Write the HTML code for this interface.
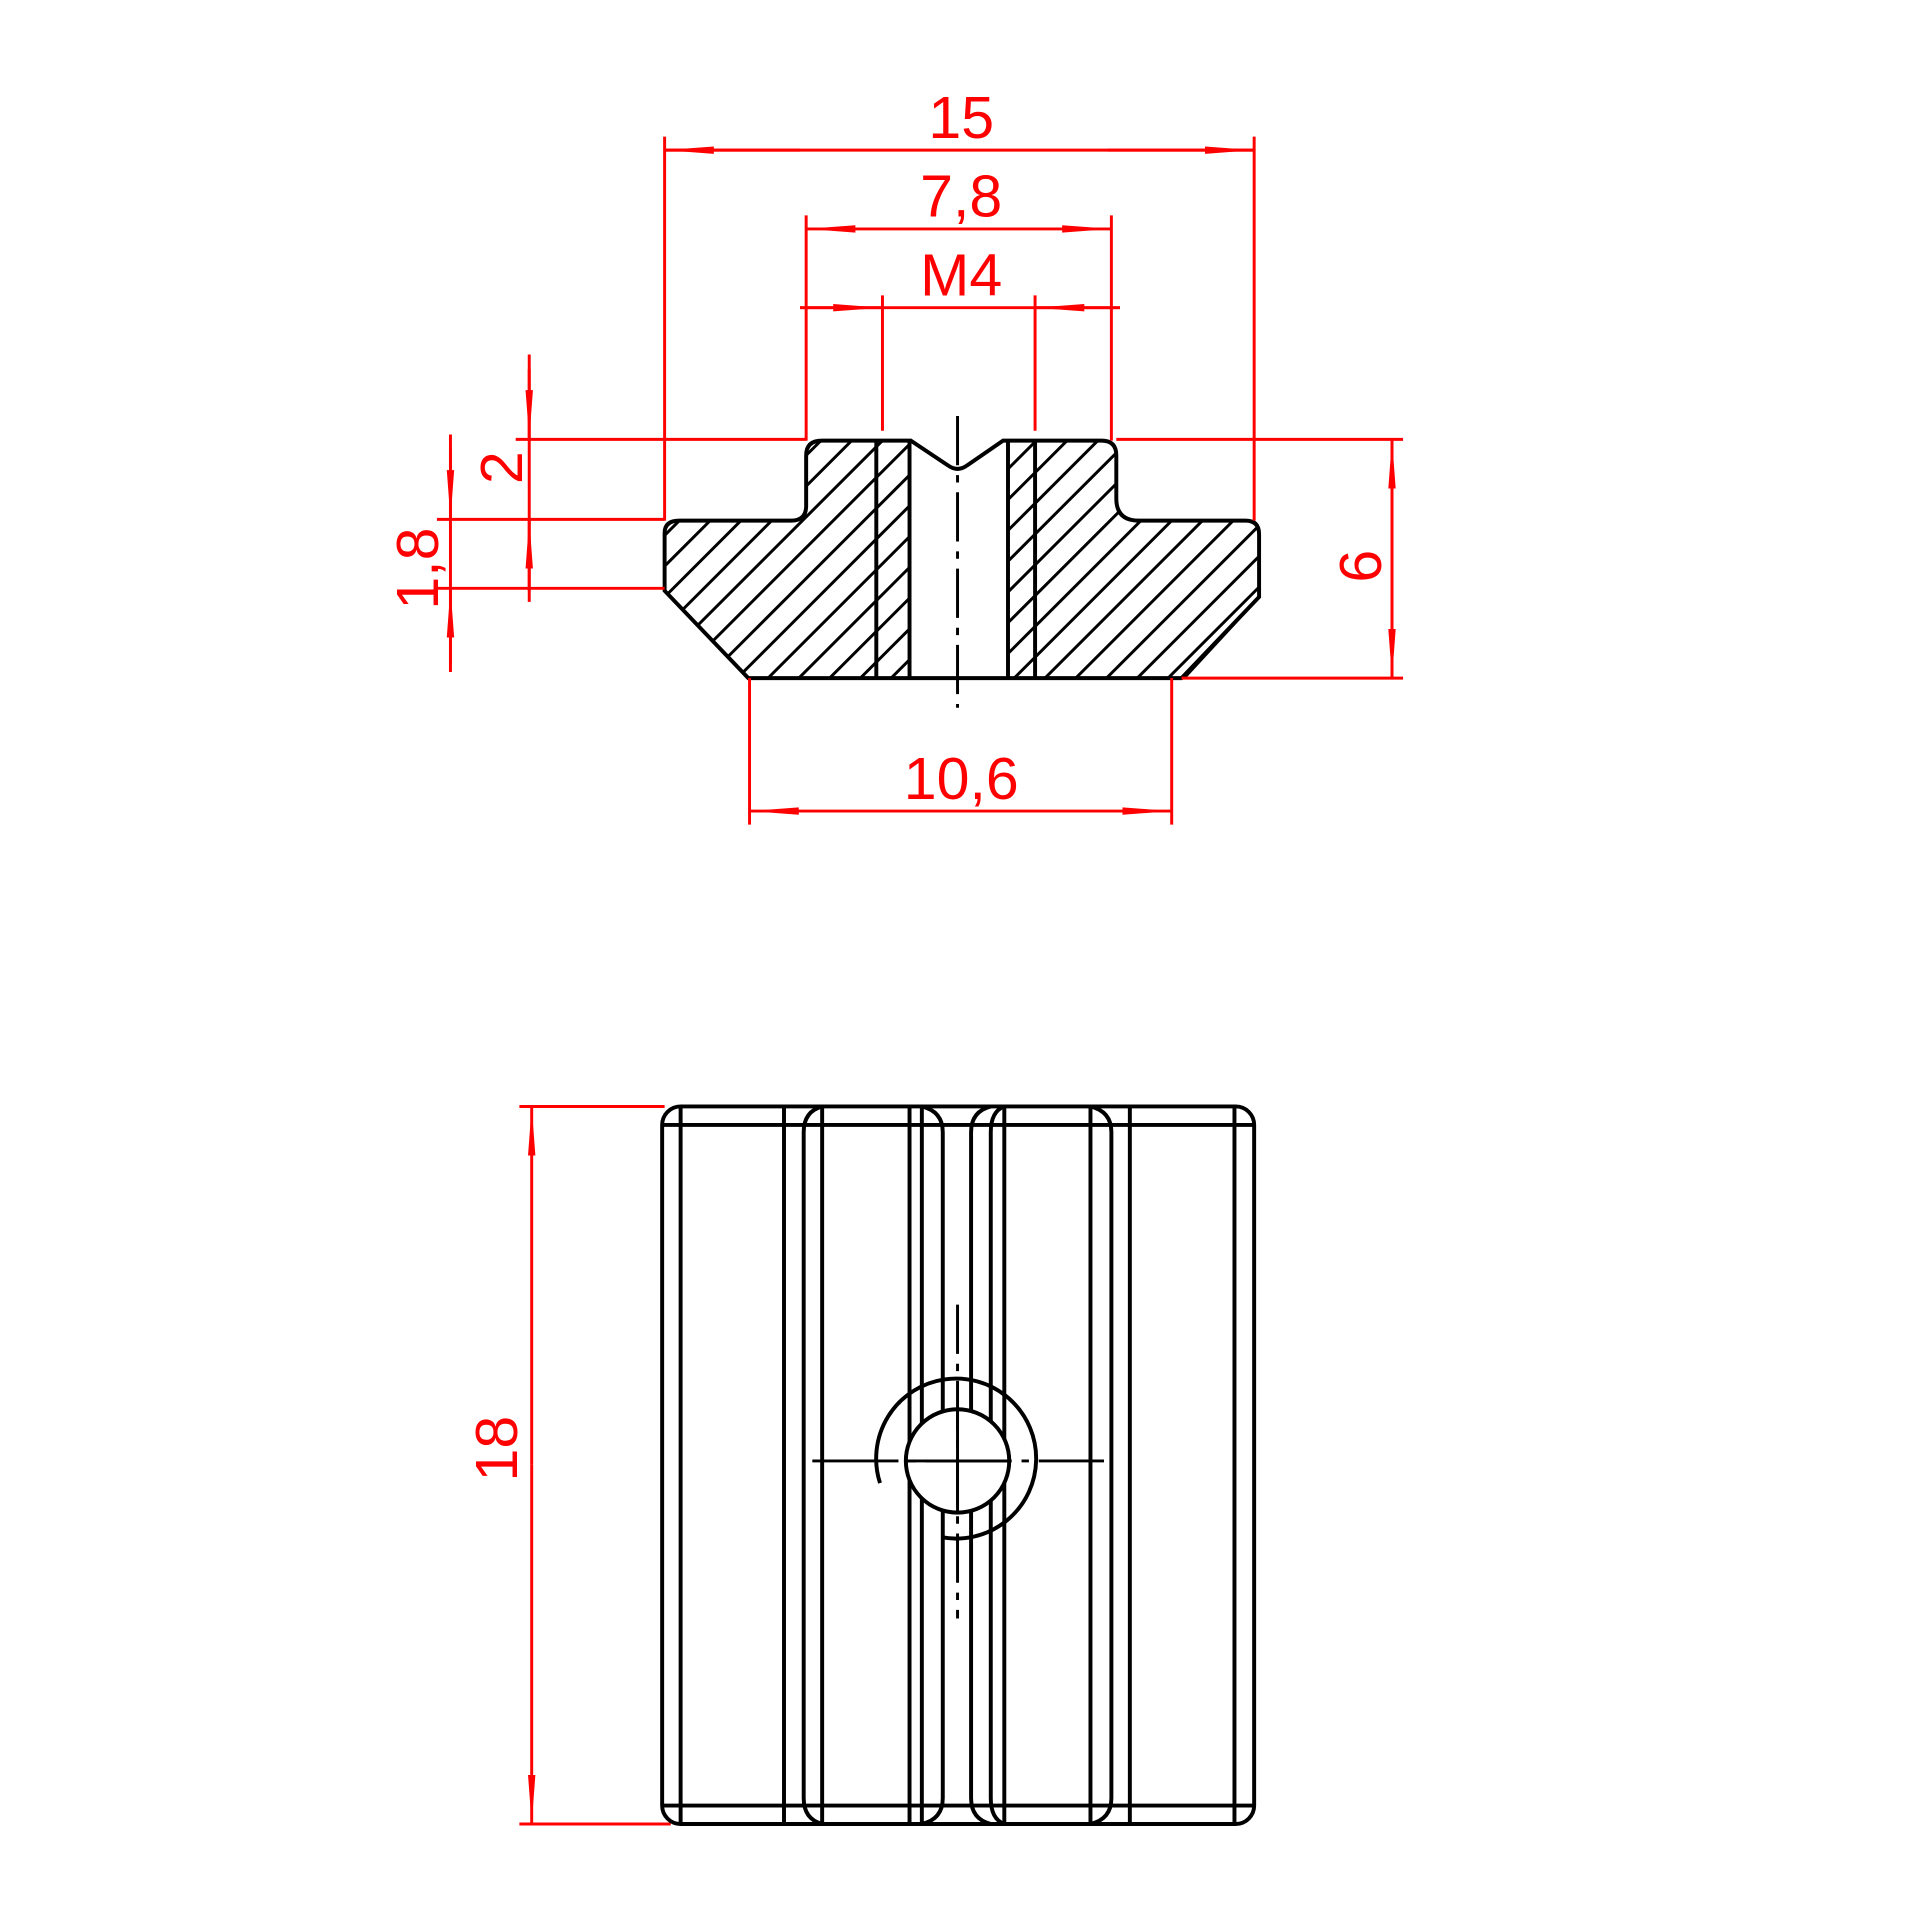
<!DOCTYPE html>
<html><head><meta charset="utf-8"><style>html,body{margin:0;padding:0;background:#fff}svg{display:block}</style></head>
<body>
<svg width="1920" height="1920" viewBox="0 0 1560 1560" xmlns="http://www.w3.org/2000/svg">
<defs>
<clipPath id="sec"><path id="secp" d="M668 358 H740 L770 378 Q778 384 786 378 L815 358 H895 Q907 358 907 370 V405 Q907 423 925 423 H1012 Q1023 423 1023 434 V485 L960 551 H608 L540 480 V433 Q540 423 552 423 H643 Q655 423 655 411 V370 Q655 358 668 358 Z"/></clipPath>
<marker id="a" viewBox="0 0 40 10" refX="40" refY="5" markerWidth="40" markerHeight="10" markerUnits="userSpaceOnUse" orient="auto"><path d="M0 2 L40 5 L0 8 Z" fill="#f00"/></marker>
</defs>
<rect width="1560" height="1560" fill="#fff"/>
<g clip-path="url(#sec)" stroke="#000" stroke-width="2.4" fill="none">
<path d="M300 600 L600 300 M325 600 L625 300 M350 600 L650 300 M375 600 L675 300 M400 600 L700 300 M425 600 L725 300 M450 600 L750 300 M475 600 L775 300 M500 600 L800 300 M525 600 L825 300 M550 600 L850 300 M575 600 L875 300 M600 600 L900 300 M625 600 L925 300 M650 600 L950 300 M675 600 L975 300 M700 600 L1000 300 M725 600 L1025 300 M750 600 L1050 300 M775 600 L1075 300 M800 600 L1100 300 M825 600 L1125 300 M850 600 L1150 300 M875 600 L1175 300 M900 600 L1200 300 M925 600 L1225 300 M950 600 L1250 300 M975 600 L1275 300 M1000 600 L1300 300 M1025 600 L1325 300 M1050 600 L1350 300 M1075 600 L1375 300 M1100 600 L1400 300 M1125 600 L1425 300"/>
<rect x="739" y="350" width="79" height="210" fill="#fff" stroke="none"/>
</g>
<g stroke="#000" stroke-width="3.2" fill="none">
<use href="#secp"/>
<path d="M712 358 V551 M739 358 V551 M819 358 V551 M841 358 V551"/>
<path d="M1023 485 L962 551" stroke-width="2.4"/>
</g>
<path d="M778 338 V575" stroke="#000" stroke-width="2.4" stroke-dasharray="40 8 6 8" fill="none"/>

<g stroke="#f00" stroke-width="2.4" fill="none">
<path d="M540 111 V423 M1019 111 V423 M540 122 H1019"/>
<line x1="650" y1="122" x2="540" y2="122" marker-end="url(#a)"/>
<line x1="900" y1="122" x2="1019" y2="122" marker-end="url(#a)"/>
<path d="M655 175 V358 M903 175 V358"/>
<line x1="780" y1="186" x2="655" y2="186" marker-end="url(#a)"/>
<line x1="780" y1="186" x2="903" y2="186" marker-end="url(#a)"/>
<path d="M717 240 V350 M841 240 V350 M650 250 H910"/>
<line x1="650" y1="250" x2="717" y2="250" marker-end="url(#a)"/>
<line x1="910" y1="250" x2="841" y2="250" marker-end="url(#a)"/>
<path d="M419 357 H655 M907 357 H1140 M355 422 H540 M355 478 H540 M960 551 H1140"/>
<path d="M430 288 V489 M366 353 V546"/>
<line x1="430" y1="300" x2="430" y2="357" marker-end="url(#a)"/>
<line x1="430" y1="480" x2="430" y2="422" marker-end="url(#a)"/>
<line x1="366" y1="365" x2="366" y2="422" marker-end="url(#a)"/>
<line x1="366" y1="540" x2="366" y2="478" marker-end="url(#a)"/>
<path d="M1131 357 V551"/>
<line x1="1131" y1="454" x2="1131" y2="357" marker-end="url(#a)"/>
<line x1="1131" y1="454" x2="1131" y2="551" marker-end="url(#a)"/>
<path d="M609 551 V670 M952 551 V670"/>
<line x1="780" y1="659" x2="609" y2="659" marker-end="url(#a)"/>
<line x1="780" y1="659" x2="952" y2="659" marker-end="url(#a)"/>
<path d="M422 899 H540 M422 1482 H545"/>
<line x1="432" y1="1190" x2="432" y2="899" marker-end="url(#a)"/>
<line x1="432" y1="1190" x2="432" y2="1482" marker-end="url(#a)"/>
</g>
<g fill="#f00" font-family="'Liberation Sans', sans-serif" font-size="48" text-anchor="middle">
<text x="781" y="112">15</text>
<text x="781" y="176">7,8</text>
<text x="781" y="240">M4</text>
<text x="781" y="649">10,6</text>
<text transform="translate(1122,460) rotate(-90)">6</text>
<text transform="translate(424,380) rotate(-90)">2</text>
<text transform="translate(356,462) rotate(-90)">1,8</text>
<text transform="translate(420,1177) rotate(-90)">18</text>
</g>

<g stroke="#000" stroke-width="3.2" fill="none">
<rect x="538" y="899" width="481" height="583" rx="15"/>
<path d="M538 914 H1019 M538 1467 H1019"/>
<path d="M553 899 V1482 M637 899 V1482 M668 899 V1482 M739 899 V1482 M749 899 V1482 M816 899 V1482 M886 899 V1482 M918 899 V1482 M1003 899 V1482"/>
<path d="M668 899 Q653 903 653 920 V1461 Q653 1478 668 1482"/>
<path d="M749 899 Q766 903 766 920 V1461 Q766 1478 749 1482"/>
<path d="M805 899 Q789 903 789 920 V1461 Q789 1478 805 1482"/>
<path d="M816 899 Q805 903 805 920 V1461 Q805 1478 816 1482"/>
<path d="M886 899 Q903 903 903 920 V1461 Q903 1478 886 1482"/>
<circle cx="778" cy="1187" r="42" fill="#fff"/>
<path d="M715 1205 A65 65 0 1 1 765 1249"/>
</g>
<g stroke="#000" stroke-width="2.4" fill="none">
<path d="M660 1187 H897" stroke-dasharray="70 8 6 8"/>
<path d="M778 1060 V1315" stroke-dasharray="40 8 6 8"/>
<path d="M736 1187 H820 M778 1145 V1229"/>
</g>
</svg>
</body></html>
